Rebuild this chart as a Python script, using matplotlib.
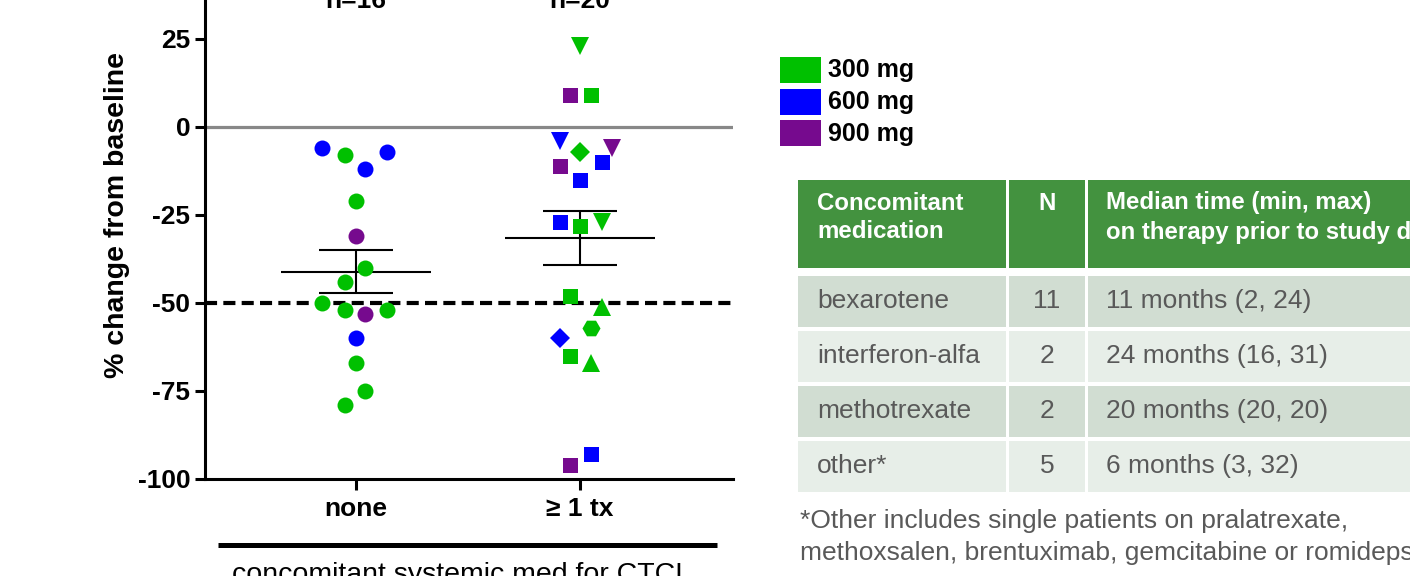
import matplotlib.pyplot as plt
from matplotlib.patches import Rectangle
import numpy as np

plt.rcParams['font.family'] = ['Liberation Sans', 'DejaVu Sans']
plt.rcParams['axes.unicode_minus'] = False

dose_colors = {'300': '#00C000', '600': '#0000FF', '900': '#760A8E'}
dose_labels = ['300 mg', '600 mg', '900 mg']

# group "none" (n=16), all circles
none_pct = [-6, -8, -7, -12, -21, -31, -40, -44, -50, -52, -53, -52, -60, -67, -75, -79]
none_dose = ['600', '300', '600', '600', '300', '900', '300', '300',
             '300', '300', '900', '300', '600', '300', '300', '300']
none_off = [-0.15, -0.05, 0.14, 0.04, 0, 0, 0.04, -0.05,
            -0.15, -0.05, 0.04, 0.14, 0, 0, 0.04, -0.05]

# group ">= 1 tx" (n=20)
tx_pct = [23, 9, 9, -4, -7, -6, -11, -10, -15, -27,
          -28, -27, -48, -51, -57, -60, -65, -67, -93, -96]
tx_dose = ['300', '900', '300', '600', '300', '900', '900', '600', '600', '600',
           '300', '300', '300', '300', '300', '600', '300', '300', '600', '900']
tx_marker = ['v', 's', 's', 'v', 'D', 'v', 's', 's', 's', 's',
             's', 'v', 's', '^', 'H', 'D', 's', '^', 's', 's']
tx_off = [0, -0.045, 0.05, -0.09, 0.0, 0.145, -0.09, 0.1, 0.0, -0.09,
          0.0, 0.1, -0.045, 0.1, 0.05, -0.09, -0.045, 0.05, 0.05, -0.045]

group_names = ['none', '\u2265 1 tx']

# table
meds = ['bexarotene', 'interferon-alfa', 'methotrexate', 'other*']
med_n = ['11', '2', '2', '5']
med_time = ['11 months (2, 24)', '24 months (16, 31)', '20 months (20, 20)', '6 months (3, 32)']

msize = {'o': 11.5, 's': 10.8, 'v': 13, '^': 13, 'D': 9.7, 'H': 13}

W, H = 1410, 576
fig = plt.figure(figsize=(W / 100, H / 100), dpi=100)

# overlay in pixel coords for legend / table
ov = fig.add_axes([0, 0, 1, 1])
ov.set_xlim(0, W)
ov.set_ylim(H, 0)
ov.axis('off')

# main axes: x 205..733 px, y(-100)=479 px, 3.52 px per unit
ylo, yhi = -100, 40
ppu = 3.52
ax = fig.add_axes([205 / W, (H - 479) / H, 528 / W, (yhi - ylo) * ppu / H])
ax.set_xlim(-151 / 224, 1 + 153 / 224)
ax.set_ylim(ylo, yhi)

ax.axhline(0, color='#888888', lw=2.3, zorder=1)
ax.axhline(-50, color='black', lw=3, linestyle=(0, (2.9, 1.5)), zorder=1)

for x, vals, offs, doses, marks in [
        (0, none_pct, none_off, none_dose, ['o'] * len(none_pct)),
        (1, tx_pct, tx_off, tx_dose, tx_marker)]:
    for v, o, d, m in zip(vals, offs, doses, marks):
        ax.plot(x + o, v, marker=m, ms=msize[m], color=dose_colors[d],
                markeredgewidth=0, linestyle='none', zorder=3, clip_on=False)
    arr = np.array(vals, dtype=float)
    mean = arr.mean()
    sem = arr.std(ddof=1) / np.sqrt(len(arr))
    ax.hlines(mean, x - 0.335, x + 0.335, color='black', lw=1.5, zorder=2)
    ax.hlines([mean - sem, mean + sem], x - 0.167, x + 0.167, color='black', lw=1.5, zorder=2)
    ax.vlines(x, mean - sem, mean + sem, color='black', lw=1.5, zorder=2)
    ax.text(x, 33.8, 'n=%d' % len(vals), ha='center', va='baseline',
            fontsize=19, fontweight='bold', clip_on=False)

for s in ['top', 'right']:
    ax.spines[s].set_visible(False)
for s in ['left', 'bottom']:
    ax.spines[s].set_linewidth(2.2)
ax.set_yticks([-100, -75, -50, -25, 0, 25])
ax.set_xticks([0, 1])
ax.set_xticklabels(group_names)
ax.tick_params(axis='y', length=7, width=2.2, pad=3.5, labelsize=19)
ax.tick_params(axis='x', length=8, width=2.2, pad=5, labelsize=19)
for lab in ax.get_xticklabels() + ax.get_yticklabels():
    lab.set_fontweight('bold')

fig.text(117 / W, 1 - 215 / H, '% change from baseline', rotation=90,
         ha='center', va='center', fontsize=20.5, fontweight='bold')

# bracket under groups
ax.plot([-0.616, 1.612], [-118.8, -118.8], color='black', lw=3.6,
        solid_capstyle='butt', clip_on=False)
ax.text(0.473, -123.5, 'concomitant systemic med for CTCL', ha='center', va='top',
        fontsize=20.5, clip_on=False)

# legend
for i, lab in enumerate(dose_labels):
    y0 = 57 + i * 31.5
    ov.add_patch(Rectangle((780, y0), 41, 26, facecolor=dose_colors[lab.split()[0]],
                           edgecolor='none'))
    ov.text(828, y0 + 13.5, lab, ha='left', va='center', fontsize=18, fontweight='bold')

# table
green = '#43923F'
row_cols = ['#D1DDD2', '#E7EEE8', '#D1DDD2', '#E7EEE8']
cols = [(798, 1006), (1009, 1085), (1088, 1420)]
hfs = 17.3
for (x0, x1) in cols:
    ov.add_patch(Rectangle((x0, 180), x1 - x0, 88, facecolor=green, edgecolor='none'))
ov.text(817, 203, 'Concomitant', color='white', fontsize=hfs, fontweight='bold', va='center')
ov.text(817, 232, 'medication', color='white', fontsize=hfs, fontweight='bold', va='center')
ov.text(1047, 203, 'N', color='white', fontsize=hfs, fontweight='bold', va='center', ha='center')
ov.text(1106, 203, 'Median time (min, max)', color='white', fontsize=hfs,
        fontweight='bold', va='center')
ov.text(1106, 232, 'on therapy prior to study drug', color='white', fontsize=hfs,
        fontweight='bold', va='center')

for i, (m, n, t) in enumerate(zip(meds, med_n, med_time)):
    top = 276 + i * 55
    for (x0, x1) in cols:
        ov.add_patch(Rectangle((x0, top), x1 - x0, 51, facecolor=row_cols[i], edgecolor='none'))
    yc = top + 25
    ov.text(817, yc, m, color='#595959', fontsize=19, va='center')
    ov.text(1047, yc, n, color='#595959', fontsize=19, va='center', ha='center')
    ov.text(1106, yc, t, color='#595959', fontsize=19, va='center')

ov.text(800, 521, '*Other includes single patients on pralatrexate,', color='#595959',
        fontsize=19, va='center')
ov.text(800, 553, 'methoxsalen, brentuximab, gemcitabine or romidepsin', color='#595959',
        fontsize=19, va='center')

fig.savefig('out.png', dpi=100)
